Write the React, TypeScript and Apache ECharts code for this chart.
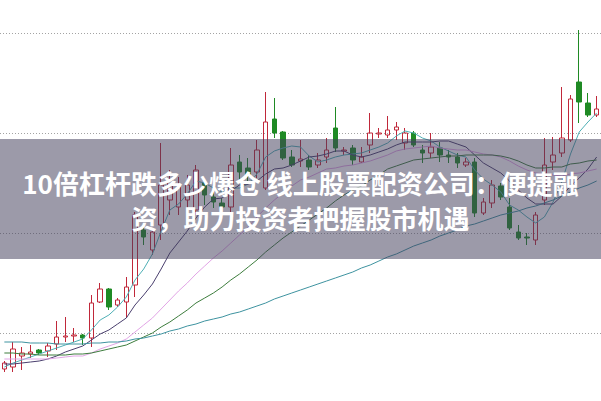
import React, { useEffect, useRef } from "react";
import * as echarts from "echarts";

// [open, close, low, high]
const candles: number[][] = [
  [9.64, 9.70, 9.61, 9.72], [9.66, 9.84, 9.61, 9.91], [9.77, 9.80, 9.63, 9.86], [9.79, 9.81, 9.75, 9.88],
  [9.83, 9.80, 9.78, 9.84], [9.82, 9.87, 9.76, 9.90], [9.89, 9.96, 9.83, 10.12], [9.96, 9.97, 9.91, 10.16],
  [9.97, 9.98, 9.91, 10.05], [9.98, 9.95, 9.88, 9.99], [9.95, 10.30, 9.86, 10.38], [10.31, 10.44, 10.30, 10.50],
  [10.44, 10.26, 10.23, 10.45], [10.28, 10.33, 10.26, 10.35], [10.31, 10.46, 10.15, 10.56], [10.48, 11.18, 10.36, 11.21],
  [11.03, 10.96, 10.88, 11.08], [10.83, 11.01, 10.78, 11.05], [11.08, 11.48, 10.93, 11.90], [11.33, 11.53, 11.18, 11.63],
  [11.26, 11.46, 11.18, 11.56], [11.33, 11.48, 11.23, 11.58], [11.23, 11.63, 11.18, 11.68], [11.50, 11.38, 11.28, 11.53],
  [11.36, 11.31, 11.25, 11.41], [11.30, 11.26, 11.21, 11.35], [11.26, 11.68, 11.21, 11.85], [11.71, 11.61, 11.53, 11.78],
  [11.65, 11.57, 11.51, 11.75], [11.61, 11.83, 11.55, 11.93], [11.45, 12.11, 11.43, 12.41], [12.14, 12.00, 11.95, 12.35],
  [12.01, 11.75, 11.73, 12.02], [11.76, 11.68, 11.66, 11.83], [11.72, 11.74, 11.66, 11.93], [11.73, 11.66, 11.63, 11.78],
  [11.68, 11.73, 11.65, 11.80], [11.76, 11.83, 11.70, 11.95], [12.05, 11.85, 11.81, 12.26], [11.82, 11.83, 11.78, 11.86],
  [11.85, 11.73, 11.68, 11.88], [11.71, 11.76, 11.70, 11.86], [11.88, 12.00, 11.80, 12.20], [11.99, 12.00, 11.95, 12.05],
  [11.98, 12.03, 11.95, 12.17], [12.03, 12.06, 11.93, 12.11], [11.90, 12.00, 11.83, 12.05], [12.00, 11.88, 11.86, 12.02],
  [11.83, 11.80, 11.70, 11.88], [11.80, 11.86, 11.75, 12.00], [11.85, 11.78, 11.71, 11.91], [11.78, 11.76, 11.70, 11.83],
  [11.76, 11.70, 11.65, 11.80], [11.68, 11.71, 11.66, 11.75], [11.71, 11.20, 11.16, 11.75], [11.20, 11.31, 11.18, 11.35],
  [11.30, 11.48, 11.25, 11.53], [11.47, 11.36, 11.33, 11.50], [11.26, 11.05, 11.03, 11.35], [11.01, 10.95, 10.93, 11.08],
  [10.96, 10.95, 10.88, 11.00], [10.93, 11.18, 10.88, 11.21], [11.33, 11.68, 11.28, 11.95], [11.71, 11.78, 11.63, 11.96],
  [11.80, 11.95, 11.76, 12.46], [11.93, 12.34, 11.91, 12.38], [12.51, 12.31, 12.10, 13.03], [12.30, 12.18, 12.16, 12.40],
  [12.18, 12.24, 12.16, 12.37],
];

const ma5 = [
  9.66, 9.70, 9.73, 9.76, 9.79, 9.82, 9.85, 9.88, 9.91, 9.94, 10.03, 10.13, 10.18, 10.26, 10.36, 10.53, 10.64, 10.79,
  11.02, 11.23, 11.29, 11.39, 11.52, 11.50, 11.45, 11.41, 11.45, 11.45, 11.49, 11.59, 11.76, 11.82, 11.85, 11.87, 11.86,
  11.77, 11.71, 11.73, 11.76, 11.78, 11.79, 11.80, 11.83, 11.86, 11.90, 11.97, 12.02, 12.00, 11.95, 11.92, 11.86, 11.82,
  11.78, 11.76, 11.63, 11.54, 11.48, 11.41, 11.28, 11.23, 11.16, 11.10, 11.16, 11.31, 11.51, 11.79, 12.01, 12.11, 12.20,
];
const ma10 = [
  9.69, 9.69, 9.70, 9.71, 9.72, 9.74, 9.77, 9.81, 9.84, 9.87, 9.93, 9.99, 10.03, 10.09, 10.15, 10.28, 10.38, 10.49,
  10.64, 10.80, 10.91, 11.02, 11.15, 11.26, 11.34, 11.35, 11.42, 11.48, 11.49, 11.52, 11.59, 11.64, 11.65, 11.68, 11.72,
  11.76, 11.77, 11.79, 11.82, 11.82, 11.78, 11.76, 11.78, 11.81, 11.84, 11.88, 11.91, 11.91, 11.91, 11.91, 11.92, 11.92,
  11.89, 11.86, 11.78, 11.70, 11.65, 11.60, 11.52, 11.43, 11.35, 11.29, 11.29, 11.29, 11.37, 11.47, 11.55, 11.64, 11.76,
];
const ma20 = [
  9.74, 9.74, 9.74, 9.74, 9.74, 9.74, 9.75, 9.76, 9.77, 9.77, 9.80, 9.84, 9.87, 9.90, 9.94, 10.01, 10.08, 10.15,
  10.24, 10.33, 10.42, 10.50, 10.59, 10.67, 10.75, 10.82, 10.90, 10.98, 11.06, 11.16, 11.25, 11.33, 11.40, 11.47, 11.53,
  11.56, 11.60, 11.64, 11.65, 11.67, 11.68, 11.70, 11.72, 11.75, 11.78, 11.82, 11.84, 11.85, 11.86, 11.87, 11.85, 11.84,
  11.83, 11.83, 11.81, 11.79, 11.78, 11.76, 11.72, 11.67, 11.63, 11.60, 11.59, 11.58, 11.57, 11.59, 11.60, 11.62, 11.64,
];
const ma30 = [
  9.80, 9.80, 9.79, 9.79, 9.78, 9.78, 9.78, 9.78, 9.79, 9.79, 9.80, 9.82, 9.84, 9.86, 9.88, 9.92, 9.96, 10.00,
  10.06, 10.11, 10.17, 10.23, 10.30, 10.35, 10.40, 10.46, 10.53, 10.59, 10.66, 10.73, 10.81, 10.88, 10.95, 11.01, 11.07,
  11.13, 11.19, 11.25, 11.32, 11.38, 11.43, 11.47, 11.53, 11.58, 11.64, 11.67, 11.70, 11.73, 11.74, 11.75, 11.76, 11.77,
  11.77, 11.78, 11.78, 11.78, 11.78, 11.77, 11.75, 11.72, 11.68, 11.65, 11.65, 11.66, 11.66, 11.69, 11.70, 11.72, 11.73,
];
const ma60 = [
  9.91, 9.91, 9.91, 9.90, 9.90, 9.90, 9.89, 9.89, 9.89, 9.89, 9.90, 9.90, 9.91, 9.91, 9.92, 9.94, 9.95, 9.97,
  9.99, 10.02, 10.04, 10.07, 10.09, 10.12, 10.14, 10.16, 10.19, 10.21, 10.24, 10.27, 10.30, 10.34, 10.37, 10.40, 10.43,
  10.46, 10.49, 10.52, 10.55, 10.58, 10.61, 10.65, 10.68, 10.72, 10.76, 10.79, 10.83, 10.87, 10.90, 10.93, 10.97, 11.00,
  11.03, 11.07, 11.09, 11.12, 11.15, 11.18, 11.20, 11.22, 11.25, 11.27, 11.30, 11.33, 11.37, 11.41, 11.45, 11.48, 11.52,
];

const days = candles.map((_, i) => String(i + 1));
const gridMin = 10;
const gridMax = 13;
const gridStep = 1;
const titleLines = ["10倍杠杆跌多少爆仓 线上股票配资公司：便捷融", "资，助力投资者把握股市机遇"];

const maSeries = [
  { name: "MA5", data: ma5, color: "#4fb0b6" },
  { name: "MA10", data: ma10, color: "#4a3f6e" },
  { name: "MA20", data: ma20, color: "#e2a4e6" },
  { name: "MA30", data: ma30, color: "#3d7d3d" },
  { name: "MA60", data: ma60, color: "#3e93a0" },
];

export default function App() {
  const ref = useRef<HTMLDivElement>(null);
  useEffect(() => {
    const chart = echarts.init(ref.current!, null, { renderer: "svg" });
    chart.setOption({
      animation: false,
      backgroundColor: "#ffffff",
      grid: { left: -3, right: 0, top: 33, bottom: 68 },
      xAxis: { type: "category", data: days, boundaryGap: true, show: false },
      yAxis: {
        type: "value",
        min: gridMin,
        max: gridMax,
        interval: gridStep,
        axisLine: { show: false },
        axisTick: { show: false },
        axisLabel: { show: false },
        splitLine: { show: true, lineStyle: { color: "#a3a3a3", type: [1, 2], width: 1 } },
      },
      series: [
        {
          type: "candlestick",
          data: candles,
          barWidth: 5,
          clip: false,
          itemStyle: {
            color: "transparent",
            color0: "#1f8a24",
            borderColor: "#c0283a",
            borderColor0: "#1f8a24",
            borderWidth: 1,
          },
        },
        ...maSeries.map((m) => ({
          type: "line",
          name: m.name,
          data: m.data,
          symbol: "none",
          clip: false,
          smooth: false,
          lineStyle: { color: m.color, width: 1 },
        })),
      ],
      graphic: [
        {
          type: "rect",
          z: 100,
          shape: { x: 0, y: 139, width: 601, height: 120 },
          style: { fill: "rgba(65,62,90,0.52)" },
        },
        ...titleLines.map((t, i) => ({
          type: "text",
          z: 101,
          x: 300.5,
          y: 182 + i * 35,
          style: {
            text: t,
            fill: "#ffffff",
            fontSize: 26,
            fontWeight: "bold",
            fontFamily: '"Noto Sans CJK SC", sans-serif',
            align: "center",
            verticalAlign: "middle",
            textAlign: "center",
            textVerticalAlign: "middle",
          },
        })),
      ],
    });
    return () => chart.dispose();
  }, []);
  return (
    <div
      ref={ref}
      style={{ position: "fixed", left: 0, top: 0, width: 601, height: 401, background: "#fff" }}
    />
  );
}
